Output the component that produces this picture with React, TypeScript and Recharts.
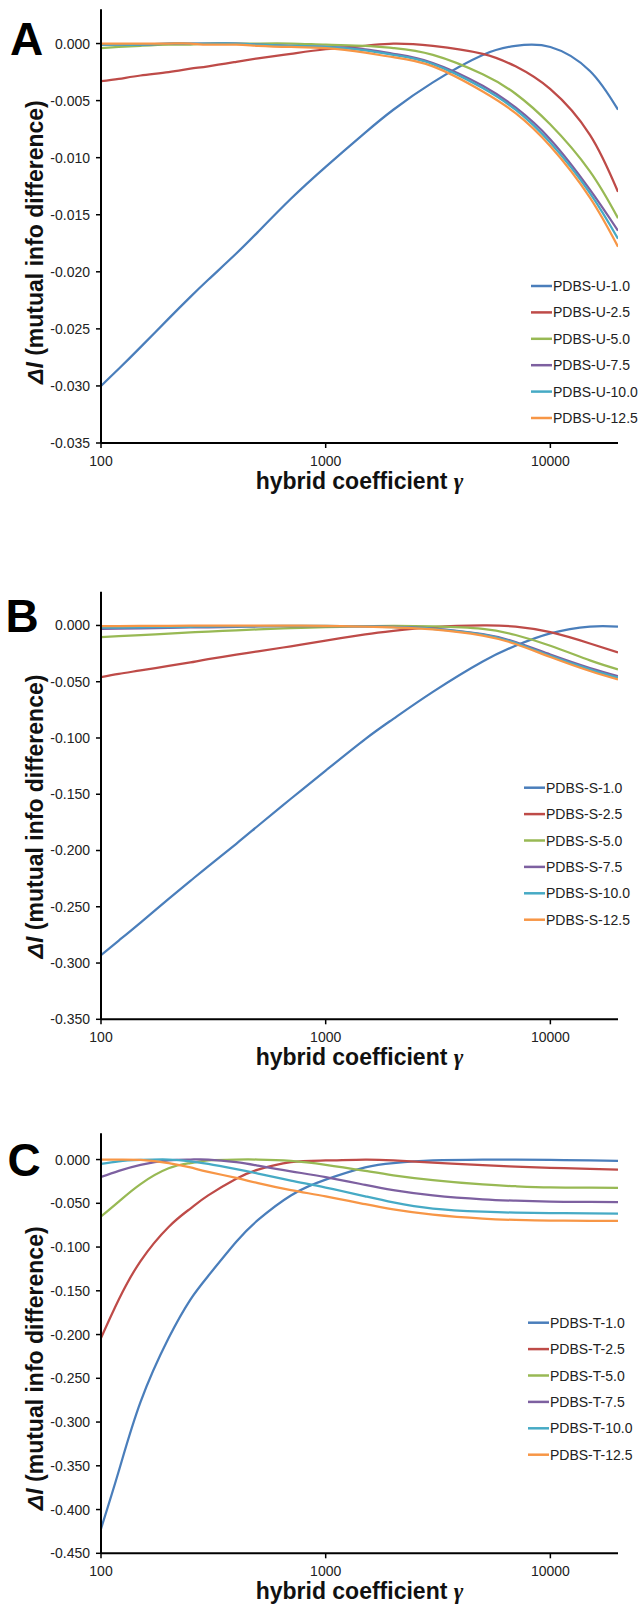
import React from "react";
import { LineChart, Line, XAxis, YAxis, Label } from "recharts";

// hybrid coefficient (x values shared by all three panels)
const GAMMA = [100, 120, 150, 200, 250, 300, 400, 500, 700, 1000, 1500, 2000, 3000, 5000, 7000, 10000, 15000, 20000];

// Panel A – PDBS-U
const U_10 = [-0.03, -0.0285, -0.0266, -0.0241, -0.0222, -0.0207, -0.0184, -0.0165, -0.0136, -0.0108, -0.0078, -0.0058, -0.0034, -0.001, -0.0002, -0.0003, -0.0024, -0.0058];
const U_25 = [-0.0033, -0.0031, -0.0028, -0.0025, -0.0022, -0.002, -0.0016, -0.0013, -0.0009, -0.0005, -0.0002, 0, -0.0002, -0.0009, -0.002, -0.004, -0.008, -0.013];
const U_50 = [-0.0004, -0.0003, -0.0002, -0.0001, -0.0001, 0, 0, 0, 0, -0.0001, -0.0002, -0.0004, -0.001, -0.0027, -0.0044, -0.0071, -0.0112, -0.0153];
const U_75 = [-0.0001, -0.0001, -0.0001, 0, 0, 0, 0, -0.0001, -0.0002, -0.0003, -0.0005, -0.0009, -0.0017, -0.0037, -0.0056, -0.0084, -0.0128, -0.0164];
const U_100 = [-0.0001, -0.0001, -0.0001, 0, 0, 0, 0, -0.0001, -0.0002, -0.0003, -0.0006, -0.001, -0.0018, -0.0039, -0.0058, -0.0087, -0.0131, -0.0171];
const U_125 = [0, 0, 0, 0, 0, -0.0001, -0.0001, -0.0002, -0.0003, -0.0004, -0.0008, -0.0012, -0.002, -0.0042, -0.0061, -0.009, -0.0135, -0.0178];

// Panel B – PDBS-S
const S_10 = [-0.293, -0.28, -0.264, -0.243, -0.227, -0.214, -0.194, -0.178, -0.154, -0.129, -0.101, -0.083, -0.059, -0.032, -0.018, -0.007, -0.001, -0.001];
const S_25 = [-0.046, -0.043, -0.04, -0.036, -0.0328, -0.03, -0.026, -0.023, -0.0185, -0.0135, -0.008, -0.0048, -0.0015, 0, -0.001, -0.006, -0.016, -0.024];
const S_50 = [-0.0104, -0.0095, -0.0085, -0.0072, -0.0062, -0.0054, -0.0043, -0.0035, -0.0024, -0.0015, -0.0007, -0.0004, -0.0008, -0.003, -0.0085, -0.018, -0.031, -0.039];
const S_75 = [-0.003, -0.0028, -0.0025, -0.0021, -0.0018, -0.0016, -0.0012, -0.0009, -0.0006, -0.0005, -0.0008, -0.0013, -0.0028, -0.0078, -0.0148, -0.0258, -0.0378, -0.045];
const S_100 = [-0.002, -0.0019, -0.0017, -0.0014, -0.0012, -0.001, -0.0008, -0.0006, -0.0004, -0.0004, -0.0009, -0.0015, -0.003, -0.0082, -0.0155, -0.027, -0.039, -0.0465];
const S_125 = [-0.0005, -0.0005, -0.0004, -0.0003, -0.0002, -0.0002, -0.0001, -0.0001, -0.0001, -0.0003, -0.001, -0.0018, -0.0035, -0.009, -0.0165, -0.028, -0.0405, -0.048];

// Panel C – PDBS-T
const T_10 = [-0.422, -0.356, -0.277, -0.204, -0.16, -0.133, -0.094, -0.069, -0.041, -0.023, -0.009, -0.004, -0.001, 0, 0, -0.0005, -0.001, -0.0016];
const T_25 = [-0.204, -0.16, -0.116, -0.077, -0.056, -0.041, -0.022, -0.0115, -0.003, -0.001, 0, -0.001, -0.0035, -0.0063, -0.0081, -0.0094, -0.0107, -0.0115];
const T_50 = [-0.065, -0.048, -0.028, -0.01, -0.004, -0.001, 0, 0, -0.0015, -0.006, -0.013, -0.018, -0.0235, -0.0285, -0.0305, -0.0318, -0.0322, -0.0324];
const T_75 = [-0.02, -0.013, -0.006, -0.001, 0, 0, -0.003, -0.007, -0.0135, -0.02, -0.029, -0.035, -0.041, -0.0455, -0.047, -0.048, -0.0485, -0.0487];
const T_100 = [-0.005, -0.002, -0.0005, 0, -0.002, -0.005, -0.011, -0.016, -0.024, -0.032, -0.042, -0.049, -0.056, -0.0595, -0.0607, -0.0612, -0.0615, -0.0617];
const T_125 = [0, 0, -0.0005, -0.004, -0.009, -0.014, -0.021, -0.027, -0.035, -0.042, -0.051, -0.057, -0.063, -0.0675, -0.069, -0.0698, -0.07, -0.07];

const SUFFIXES = ["1.0", "2.5", "5.0", "7.5", "10.0", "12.5"];
const COLORS = ["#4A7EBB", "#BE4B48", "#98B954", "#7D60A0", "#46AAC5", "#F79646"];

const X_TICKS = [100, 1000, 10000];
const Y_TICKS_A = [0, -0.005, -0.01, -0.015, -0.02, -0.025, -0.03, -0.035];
const Y_TICKS_B = [0, -0.05, -0.1, -0.15, -0.2, -0.25, -0.3, -0.35];
const Y_TICKS_C = [0, -0.05, -0.1, -0.15, -0.2, -0.25, -0.3, -0.35, -0.4, -0.45];

const FONT = '"Liberation Sans", Arial, sans-serif';
const W = 639;
const PLOT_LEFT = 101;
const PLOT_RIGHT = 618;
const X_AXIS_H = 30;
const ROW_GAP = 26.4;

const panels = [
  { letter: "A", prefix: "PDBS-U-", series: [U_10, U_25, U_50, U_75, U_100, U_125], domain: [-0.035, 0.003], ticks: Y_TICKS_A,
    top: 0, height: 540, plotTop: 9.3, plotBottom: 443, yLabelShift: 16, letterX: 26.5, letterBase: 55,
    legendX: 531, legendY: 286 },
  { letter: "B", prefix: "PDBS-S-", series: [S_10, S_25, S_50, S_75, S_100, S_125], domain: [-0.35, 0.03], ticks: Y_TICKS_B,
    top: 560, height: 530, plotTop: 591.7, plotBottom: 1019.3, yLabelShift: 11, letterX: 22, letterBase: 631.5,
    legendX: 524, legendY: 787.7 },
  { letter: "C", prefix: "PDBS-T-", series: [T_10, T_25, T_50, T_75, T_100, T_125], domain: [-0.45, 0.03], ticks: Y_TICKS_C,
    top: 1090, height: 529, plotTop: 1133.3, plotBottom: 1553.3, yLabelShift: 25, letterX: 24, letterBase: 1176,
    legendX: 528, legendY: 1322.7 },
];

const Panel = ({ p }: { p: (typeof panels)[number] }) => {
  const data = GAMMA.map((g, i) => {
    const row: any = { g };
    p.series.forEach((s, k) => (row["s" + k] = s[i]));
    return row;
  });
  const marginTop = p.plotTop - p.top;
  const marginBottom = p.height - (p.plotBottom - p.top) - X_AXIS_H;

  return (
    <div style={{ position: "absolute", left: 0, top: p.top }}>
      <LineChart
        width={W}
        height={p.height}
        data={data}
        margin={{ top: marginTop, bottom: marginBottom, left: PLOT_LEFT - 60, right: W - PLOT_RIGHT }}
      >
        <XAxis
          dataKey="g"
          type="number"
          scale="log"
          domain={[100, 20000]}
          ticks={X_TICKS}
          allowDataOverflow
          height={X_AXIS_H}
          axisLine={{ stroke: "#000", strokeWidth: 2 }}
          tickLine={{ stroke: "#000", strokeWidth: 1.5 }}
          tickSize={5}
          tickMargin={8}
          tick={{ fill: "#222", fontSize: 14, fontFamily: FONT }}
        >
          <Label
            content={(props: any) => {
              const vb = props.viewBox;
              return (
                <text
                  x={vb.x + vb.width / 2}
                  y={vb.y + 38}
                  textAnchor="middle"
                  dominantBaseline="central"
                  fontFamily={FONT}
                  fontWeight="bold"
                  fontSize={23}
                  fill="#111"
                >
                  hybrid coefficient{" "}
                  <tspan fontFamily='"Liberation Serif", serif' fontStyle="italic">γ</tspan>
                </text>
              );
            }}
          />
        </XAxis>
        <YAxis
          type="number"
          width={60}
          domain={p.domain}
          ticks={p.ticks}
          allowDataOverflow
          axisLine={{ stroke: "#000", strokeWidth: 2 }}
          tickLine={{ stroke: "#000", strokeWidth: 1.5 }}
          tickSize={5}
          tickMargin={6}
          tickFormatter={(v: number) => v.toFixed(3)}
          tick={{ fill: "#222", fontSize: 14, fontFamily: FONT }}
        >
          <Label
            content={(props: any) => {
              const vb = props.viewBox;
              const cy = vb.y + vb.height / 2 + p.yLabelShift;
              return (
                <text
                  x={35}
                  y={cy}
                  transform={`rotate(-90, 35, ${cy})`}
                  textAnchor="middle"
                  dominantBaseline="central"
                  fontFamily={FONT}
                  fontWeight="bold"
                  fontSize={23}
                  fill="#111"
                >
                  <tspan fontStyle="italic">ΔI</tspan> (mutual info difference)
                </text>
              );
            }}
          />
        </YAxis>
        {SUFFIXES.map((suf, k) => (
          <Line
            key={suf}
            dataKey={"s" + k}
            name={p.prefix + suf}
            type="natural"
            stroke={COLORS[k]}
            strokeWidth={2.25}
            dot={false}
            activeDot={false}
            isAnimationActive={false}
          />
        ))}
      </LineChart>
    </div>
  );
};

export default function App() {
  return (
    <div style={{ position: "absolute", left: 0, top: 0, width: W, height: 1619, background: "#fff", overflow: "hidden" }}>
      {panels.map((p) => (
        <Panel key={p.letter} p={p} />
      ))}
      <svg width={W} height={1619} style={{ position: "absolute", left: 0, top: 0, pointerEvents: "none" }}>
        {panels.map((p) => (
          <g key={p.letter}>
            <text x={p.letterX} y={p.letterBase} textAnchor="middle" fontFamily={FONT} fontWeight="bold" fontSize={46} fill="#000">
              {p.letter}
            </text>
            {SUFFIXES.map((suf, k) => {
              const y = p.legendY + k * ROW_GAP;
              return (
                <g key={suf}>
                  <line x1={p.legendX} x2={p.legendX + 21} y1={y} y2={y} stroke={COLORS[k]} strokeWidth={2.5} />
                  <text x={p.legendX + 22} y={y} dominantBaseline="central" fontFamily={FONT} fontSize={14} fill="#222">
                    {p.prefix + suf}
                  </text>
                </g>
              );
            })}
          </g>
        ))}
      </svg>
    </div>
  );
}
